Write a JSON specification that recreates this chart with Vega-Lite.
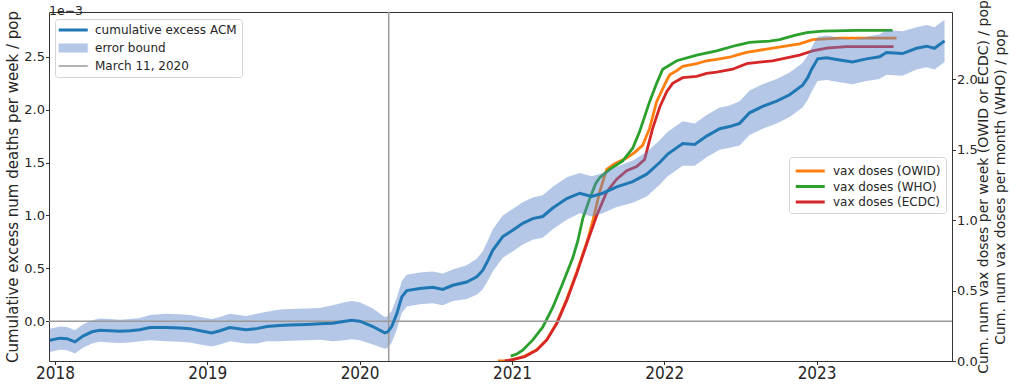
{
  "$schema": "https://vega.github.io/schema/vega-lite/v6.json",
  "width": 903,
  "height": 349,
  "autosize": {"type": "none"},
  "padding": {"left": 49, "top": 12, "right": 72, "bottom": 29},
  "background": "white",
  "title": {"text": "1e−3", "anchor": "start", "frame": "group", "fontSize": 12.5, "fontWeight": "normal", "font": "DejaVu Sans", "offset": -18, "color": "#262626"},
  "config": {
    "view": {"stroke": "#333333", "strokeWidth": 1},
    "axis": {"grid": false, "domain": false, "tickColor": "#333333", "labelColor": "#262626", "titleColor": "#262626", "labelFont": "DejaVu Sans", "titleFont": "DejaVu Sans", "titleFontWeight": "normal", "tickWidth": 1, "labelFontSize": 13},
    "legend": {"labelFont": "DejaVu Sans", "labelColor": "#262626", "labelFontSize": 12}
  },
  "datasets": {
    "acm": [
      {"year": 2017.967, "acm": -0.00018, "lo": -0.00029, "hi": -0.00007},
      {"year": 2018.033, "acm": -0.00016, "lo": -0.00027, "hi": -0.00005},
      {"year": 2018.079, "acm": -0.000165, "lo": -0.000275, "hi": -0.000055},
      {"year": 2018.131, "acm": -0.000195, "lo": -0.000305, "hi": -0.000085},
      {"year": 2018.184, "acm": -0.00014, "lo": -0.00025, "hi": -0.00003},
      {"year": 2018.243, "acm": -0.0001, "lo": -0.00021, "hi": 0.00001},
      {"year": 2018.295, "acm": -0.000085, "lo": -0.000195, "hi": 0.000025},
      {"year": 2018.361, "acm": -0.00009, "lo": -0.0002, "hi": 0.00002},
      {"year": 2018.427, "acm": -0.000095, "lo": -0.000205, "hi": 0.000015},
      {"year": 2018.492, "acm": -0.00009, "lo": -0.0002, "hi": 0.00002},
      {"year": 2018.558, "acm": -0.00008, "lo": -0.00019, "hi": 0.00003},
      {"year": 2018.623, "acm": -0.00006, "lo": -0.00018, "hi": 0.00006},
      {"year": 2018.728, "acm": -0.00006, "lo": -0.00019, "hi": 0.00007},
      {"year": 2018.82, "acm": -0.000065, "lo": -0.000195, "hi": 0.000065},
      {"year": 2018.886, "acm": -0.00007, "lo": -0.0002, "hi": 0.00006},
      {"year": 2018.971, "acm": -0.000095, "lo": -0.000225, "hi": 0.000035},
      {"year": 2019.03, "acm": -0.00011, "lo": -0.00024, "hi": 0.00002},
      {"year": 2019.083, "acm": -0.00009, "lo": -0.00022, "hi": 0.00004},
      {"year": 2019.148, "acm": -0.00006, "lo": -0.00019, "hi": 0.00007},
      {"year": 2019.253, "acm": -0.00008, "lo": -0.00021, "hi": 0.00005},
      {"year": 2019.325, "acm": -0.00007, "lo": -0.00021, "hi": 0.00007},
      {"year": 2019.391, "acm": -0.00005, "lo": -0.00019, "hi": 0.00009},
      {"year": 2019.476, "acm": -0.00004, "lo": -0.00019, "hi": 0.00011},
      {"year": 2019.542, "acm": -0.000035, "lo": -0.000185, "hi": 0.000115},
      {"year": 2019.654, "acm": -0.00003, "lo": -0.00018, "hi": 0.00012},
      {"year": 2019.739, "acm": -0.000025, "lo": -0.000175, "hi": 0.000125},
      {"year": 2019.824, "acm": -0.00002, "lo": -0.00019, "hi": 0.00015},
      {"year": 2019.903, "acm": 0.0, "lo": -0.00018, "hi": 0.00018},
      {"year": 2019.949, "acm": 0.00001, "lo": -0.00017, "hi": 0.00019},
      {"year": 2020.001, "acm": 0.0, "lo": -0.00018, "hi": 0.00018},
      {"year": 2020.087, "acm": -0.00005, "lo": -0.00022, "hi": 0.00012},
      {"year": 2020.165, "acm": -0.00011, "lo": -0.00026, "hi": 0.00004},
      {"year": 2020.185, "acm": -0.0001, "lo": -0.00025, "hi": 0.00005},
      {"year": 2020.211, "acm": -0.00005, "lo": -0.0002, "hi": 0.0001},
      {"year": 2020.244, "acm": 0.00007, "lo": -0.00008, "hi": 0.00022},
      {"year": 2020.277, "acm": 0.00023, "lo": 0.00008, "hi": 0.00038},
      {"year": 2020.31, "acm": 0.00029, "lo": 0.00014, "hi": 0.00044},
      {"year": 2020.395, "acm": 0.00031, "lo": 0.00016, "hi": 0.00046},
      {"year": 2020.48, "acm": 0.00032, "lo": 0.00017, "hi": 0.00047},
      {"year": 2020.546, "acm": 0.0003, "lo": 0.00015, "hi": 0.00045},
      {"year": 2020.612, "acm": 0.00034, "lo": 0.00019, "hi": 0.00049},
      {"year": 2020.703, "acm": 0.00037, "lo": 0.00021, "hi": 0.00053},
      {"year": 2020.769, "acm": 0.00042, "lo": 0.00025, "hi": 0.00059},
      {"year": 2020.808, "acm": 0.00048, "lo": 0.0003, "hi": 0.00066},
      {"year": 2020.841, "acm": 0.00057, "lo": 0.00038, "hi": 0.00076},
      {"year": 2020.874, "acm": 0.00067, "lo": 0.00047, "hi": 0.00087},
      {"year": 2020.94, "acm": 0.0008, "lo": 0.0006, "hi": 0.001},
      {"year": 2021.005, "acm": 0.00086, "lo": 0.00066, "hi": 0.00106},
      {"year": 2021.071, "acm": 0.000925, "lo": 0.000725, "hi": 0.001125},
      {"year": 2021.137, "acm": 0.00097, "lo": 0.00077, "hi": 0.00117},
      {"year": 2021.202, "acm": 0.00099, "lo": 0.00079, "hi": 0.00119},
      {"year": 2021.268, "acm": 0.00107, "lo": 0.00087, "hi": 0.00127},
      {"year": 2021.36, "acm": 0.00116, "lo": 0.00096, "hi": 0.00136},
      {"year": 2021.445, "acm": 0.00121, "lo": 0.00102, "hi": 0.0014},
      {"year": 2021.524, "acm": 0.00118, "lo": 0.00099, "hi": 0.00137},
      {"year": 2021.596, "acm": 0.00121, "lo": 0.00102, "hi": 0.0014},
      {"year": 2021.688, "acm": 0.00127, "lo": 0.00108, "hi": 0.00146},
      {"year": 2021.793, "acm": 0.00132, "lo": 0.00112, "hi": 0.00152},
      {"year": 2021.885, "acm": 0.00139, "lo": 0.00118, "hi": 0.0016},
      {"year": 2021.97, "acm": 0.0015, "lo": 0.00129, "hi": 0.00171},
      {"year": 2022.023, "acm": 0.00158, "lo": 0.00137, "hi": 0.00179},
      {"year": 2022.121, "acm": 0.00168, "lo": 0.00147, "hi": 0.00189},
      {"year": 2022.2, "acm": 0.00167, "lo": 0.00147, "hi": 0.00187},
      {"year": 2022.278, "acm": 0.00175, "lo": 0.00155, "hi": 0.00195},
      {"year": 2022.364, "acm": 0.00182, "lo": 0.00162, "hi": 0.00202},
      {"year": 2022.429, "acm": 0.00184, "lo": 0.00164, "hi": 0.00204},
      {"year": 2022.495, "acm": 0.00187, "lo": 0.00166, "hi": 0.00208},
      {"year": 2022.56, "acm": 0.00197, "lo": 0.00176, "hi": 0.00218},
      {"year": 2022.646, "acm": 0.00203, "lo": 0.00182, "hi": 0.00224},
      {"year": 2022.738, "acm": 0.00208, "lo": 0.00187, "hi": 0.00229},
      {"year": 2022.823, "acm": 0.00214, "lo": 0.00193, "hi": 0.00235},
      {"year": 2022.908, "acm": 0.00223, "lo": 0.00202, "hi": 0.00244},
      {"year": 2022.941, "acm": 0.0023, "lo": 0.00209, "hi": 0.00251},
      {"year": 2022.967, "acm": 0.00238, "lo": 0.00217, "hi": 0.00259},
      {"year": 2023.007, "acm": 0.00248, "lo": 0.00227, "hi": 0.00269},
      {"year": 2023.066, "acm": 0.00249, "lo": 0.00228, "hi": 0.0027},
      {"year": 2023.151, "acm": 0.00247, "lo": 0.00226, "hi": 0.00268},
      {"year": 2023.236, "acm": 0.00245, "lo": 0.00224, "hi": 0.00266},
      {"year": 2023.328, "acm": 0.00248, "lo": 0.00227, "hi": 0.00269},
      {"year": 2023.413, "acm": 0.0025, "lo": 0.00229, "hi": 0.00271},
      {"year": 2023.459, "acm": 0.00254, "lo": 0.00233, "hi": 0.00275},
      {"year": 2023.564, "acm": 0.00253, "lo": 0.00232, "hi": 0.00274},
      {"year": 2023.656, "acm": 0.00258, "lo": 0.00238, "hi": 0.00278},
      {"year": 2023.722, "acm": 0.0026, "lo": 0.0024, "hi": 0.0028},
      {"year": 2023.774, "acm": 0.00258, "lo": 0.00238, "hi": 0.00278},
      {"year": 2023.84, "acm": 0.00265, "lo": 0.00245, "hi": 0.00285}
    ],
    "vax": [
      {"source": "vax doses (OWID)", "year": 2020.907, "doses": 0.0},
      {"source": "vax doses (OWID)", "year": 2020.953, "doses": 0.0},
      {"source": "vax doses (OWID)", "year": 2021.005, "doses": 0.01},
      {"source": "vax doses (OWID)", "year": 2021.084, "doses": 0.035},
      {"source": "vax doses (OWID)", "year": 2021.163, "doses": 0.08},
      {"source": "vax doses (OWID)", "year": 2021.228, "doses": 0.15},
      {"source": "vax doses (OWID)", "year": 2021.294, "doses": 0.27},
      {"source": "vax doses (OWID)", "year": 2021.36, "doses": 0.44},
      {"source": "vax doses (OWID)", "year": 2021.425, "doses": 0.63},
      {"source": "vax doses (OWID)", "year": 2021.497, "doses": 0.86},
      {"source": "vax doses (OWID)", "year": 2021.53, "doses": 0.99},
      {"source": "vax doses (OWID)", "year": 2021.576, "doses": 1.2},
      {"source": "vax doses (OWID)", "year": 2021.622, "doses": 1.36},
      {"source": "vax doses (OWID)", "year": 2021.675, "doses": 1.4},
      {"source": "vax doses (OWID)", "year": 2021.753, "doses": 1.44},
      {"source": "vax doses (OWID)", "year": 2021.806, "doses": 1.48},
      {"source": "vax doses (OWID)", "year": 2021.858, "doses": 1.53},
      {"source": "vax doses (OWID)", "year": 2021.904, "doses": 1.65},
      {"source": "vax doses (OWID)", "year": 2021.95, "doses": 1.84},
      {"source": "vax doses (OWID)", "year": 2022.016, "doses": 1.99},
      {"source": "vax doses (OWID)", "year": 2022.036, "doses": 2.03},
      {"source": "vax doses (OWID)", "year": 2022.082, "doses": 2.06},
      {"source": "vax doses (OWID)", "year": 2022.121, "doses": 2.09},
      {"source": "vax doses (OWID)", "year": 2022.213, "doses": 2.11},
      {"source": "vax doses (OWID)", "year": 2022.278, "doses": 2.13},
      {"source": "vax doses (OWID)", "year": 2022.344, "doses": 2.14},
      {"source": "vax doses (OWID)", "year": 2022.429, "doses": 2.155},
      {"source": "vax doses (OWID)", "year": 2022.475, "doses": 2.17},
      {"source": "vax doses (OWID)", "year": 2022.541, "doses": 2.19},
      {"source": "vax doses (OWID)", "year": 2022.711, "doses": 2.22},
      {"source": "vax doses (OWID)", "year": 2022.888, "doses": 2.25},
      {"source": "vax doses (OWID)", "year": 2022.974, "doses": 2.28},
      {"source": "vax doses (OWID)", "year": 2023.151, "doses": 2.29},
      {"source": "vax doses (OWID)", "year": 2023.525, "doses": 2.29},
      {"source": "vax doses (WHO)", "year": 2020.992, "doses": 0.035},
      {"source": "vax doses (WHO)", "year": 2021.032, "doses": 0.05},
      {"source": "vax doses (WHO)", "year": 2021.071, "doses": 0.077},
      {"source": "vax doses (WHO)", "year": 2021.137, "doses": 0.15},
      {"source": "vax doses (WHO)", "year": 2021.202, "doses": 0.24},
      {"source": "vax doses (WHO)", "year": 2021.268, "doses": 0.38},
      {"source": "vax doses (WHO)", "year": 2021.333, "doses": 0.55},
      {"source": "vax doses (WHO)", "year": 2021.399, "doses": 0.73},
      {"source": "vax doses (WHO)", "year": 2021.432, "doses": 0.85},
      {"source": "vax doses (WHO)", "year": 2021.465, "doses": 1.01},
      {"source": "vax doses (WHO)", "year": 2021.51, "doses": 1.15},
      {"source": "vax doses (WHO)", "year": 2021.55, "doses": 1.26},
      {"source": "vax doses (WHO)", "year": 2021.576, "doses": 1.3},
      {"source": "vax doses (WHO)", "year": 2021.642, "doses": 1.36},
      {"source": "vax doses (WHO)", "year": 2021.727, "doses": 1.42},
      {"source": "vax doses (WHO)", "year": 2021.793, "doses": 1.51},
      {"source": "vax doses (WHO)", "year": 2021.839, "doses": 1.63},
      {"source": "vax doses (WHO)", "year": 2021.904, "doses": 1.84},
      {"source": "vax doses (WHO)", "year": 2021.95, "doses": 1.97},
      {"source": "vax doses (WHO)", "year": 2021.99, "doses": 2.07},
      {"source": "vax doses (WHO)", "year": 2022.082, "doses": 2.13},
      {"source": "vax doses (WHO)", "year": 2022.213, "doses": 2.17},
      {"source": "vax doses (WHO)", "year": 2022.344, "doses": 2.2},
      {"source": "vax doses (WHO)", "year": 2022.475, "doses": 2.24},
      {"source": "vax doses (WHO)", "year": 2022.56, "doses": 2.26},
      {"source": "vax doses (WHO)", "year": 2022.692, "doses": 2.27},
      {"source": "vax doses (WHO)", "year": 2022.757, "doses": 2.28},
      {"source": "vax doses (WHO)", "year": 2022.856, "doses": 2.31},
      {"source": "vax doses (WHO)", "year": 2022.934, "doses": 2.33},
      {"source": "vax doses (WHO)", "year": 2023.039, "doses": 2.34},
      {"source": "vax doses (WHO)", "year": 2023.262, "doses": 2.345},
      {"source": "vax doses (WHO)", "year": 2023.499, "doses": 2.345},
      {"source": "vax doses (ECDC)", "year": 2020.953, "doses": 0.0},
      {"source": "vax doses (ECDC)", "year": 2021.005, "doses": 0.01},
      {"source": "vax doses (ECDC)", "year": 2021.084, "doses": 0.03},
      {"source": "vax doses (ECDC)", "year": 2021.163, "doses": 0.077},
      {"source": "vax doses (ECDC)", "year": 2021.228, "doses": 0.148},
      {"source": "vax doses (ECDC)", "year": 2021.294, "doses": 0.265},
      {"source": "vax doses (ECDC)", "year": 2021.36, "doses": 0.43},
      {"source": "vax doses (ECDC)", "year": 2021.425, "doses": 0.62},
      {"source": "vax doses (ECDC)", "year": 2021.497, "doses": 0.85},
      {"source": "vax doses (ECDC)", "year": 2021.556, "doses": 1.03},
      {"source": "vax doses (ECDC)", "year": 2021.622, "doses": 1.2},
      {"source": "vax doses (ECDC)", "year": 2021.688, "doses": 1.29},
      {"source": "vax doses (ECDC)", "year": 2021.753, "doses": 1.35},
      {"source": "vax doses (ECDC)", "year": 2021.819, "doses": 1.38},
      {"source": "vax doses (ECDC)", "year": 2021.871, "doses": 1.43},
      {"source": "vax doses (ECDC)", "year": 2021.924, "doses": 1.65},
      {"source": "vax doses (ECDC)", "year": 2021.97, "doses": 1.8},
      {"source": "vax doses (ECDC)", "year": 2022.016, "doses": 1.91},
      {"source": "vax doses (ECDC)", "year": 2022.055, "doses": 1.97},
      {"source": "vax doses (ECDC)", "year": 2022.121, "doses": 2.01},
      {"source": "vax doses (ECDC)", "year": 2022.213, "doses": 2.02},
      {"source": "vax doses (ECDC)", "year": 2022.278, "doses": 2.04},
      {"source": "vax doses (ECDC)", "year": 2022.344, "doses": 2.05},
      {"source": "vax doses (ECDC)", "year": 2022.449, "doses": 2.07},
      {"source": "vax doses (ECDC)", "year": 2022.541, "doses": 2.11},
      {"source": "vax doses (ECDC)", "year": 2022.626, "doses": 2.12},
      {"source": "vax doses (ECDC)", "year": 2022.711, "doses": 2.13},
      {"source": "vax doses (ECDC)", "year": 2022.803, "doses": 2.15},
      {"source": "vax doses (ECDC)", "year": 2022.888, "doses": 2.17},
      {"source": "vax doses (ECDC)", "year": 2022.974, "doses": 2.2},
      {"source": "vax doses (ECDC)", "year": 2023.066, "doses": 2.22},
      {"source": "vax doses (ECDC)", "year": 2023.197, "doses": 2.23},
      {"source": "vax doses (ECDC)", "year": 2023.505, "doses": 2.23}
    ],
    "marker": [{"event": "March 11, 2020", "year": 2020.191}],
    "zeroline": [{"level": 0}]
  },
  "layer": [
    {
      "data": {"name": "vax"},
      "mark": {"type": "line", "strokeWidth": 2.8, "clip": true},
      "encoding": {
        "x": {"field": "year", "type": "quantitative", "scale": {"domain": [2017.961, 2023.889], "nice": false, "zero": false},
              "axis": {"orient": "bottom", "values": [2018, 2019, 2020, 2021, 2022, 2023], "format": "d", "title": null, "labelFont": "Liberation Sans Narrow, DejaVu Sans Condensed, sans-serif", "labelFontSize": 17, "tickSize": 3.5, "labelPadding": 1, "labelFlush": false}},
        "y": {"field": "doses", "type": "quantitative", "scale": {"domain": [0, 2.476], "nice": false, "zero": false},
              "axis": {"orient": "right", "values": [0, 0.5, 1, 1.5, 2], "format": ".1f", "tickSize": 3.5, "labelPadding": 1,
                       "title": ["Cum. num vax doses per week (OWID or ECDC) / pop", "Cum. num vax doses per month (WHO) / pop"],
                       "titleFontSize": 14, "titleAngle": 270, "titleBaseline": "top", "titleLineHeight": 16.5, "titlePadding": -17}},
        "color": {"field": "source", "type": "nominal",
                  "scale": {"domain": ["vax doses (OWID)", "vax doses (WHO)", "vax doses (ECDC)"], "range": ["#ff7f0e", "#2ca02c", "#d62728"]},
                  "legend": {"orient": "none", "legendX": 740, "legendY": 145, "title": null, "symbolType": "M-1,0H3", "symbolSize": 210, "symbolStrokeWidth": 3, "labelOffset": 21, "rowPadding": 0.5, "padding": 5, "strokeColor": "#d4d4d4", "fillColor": "white", "cornerRadius": 3}}
      }
    },
    {
      "layer": [
        {
          "data": {"name": "acm"},
          "mark": {"type": "area", "color": "#5883ca", "opacity": 0.45, "clip": true},
          "encoding": {
            "x": {"field": "year", "type": "quantitative", "scale": {"domain": [2017.961, 2023.889], "nice": false, "zero": false}},
            "y": {"field": "lo", "type": "quantitative", "scale": {"domain": [-0.000376, 0.002923], "nice": false, "zero": false},
                  "axis": {"orient": "left", "values": [0, 0.0005, 0.001, 0.0015, 0.002, 0.0025], "labelExpr": "format(datum.value*1000, '.1f')", "tickSize": 3.5, "labelPadding": 1,
                           "title": "Cumulative excess num deaths per week / pop", "titleFontSize": 15, "titlePadding": 3}},
            "y2": {"field": "hi"}
          }
        },
        {
          "data": {"name": "zeroline"},
          "mark": {"type": "rule", "color": "#9a9a9a", "strokeWidth": 1.5},
          "encoding": {
            "y": {"field": "level", "type": "quantitative", "title": "Cumulative excess num deaths per week / pop"}
          }
        },
        {
          "data": {"name": "marker"},
          "mark": {"type": "rule", "strokeWidth": 1.5},
          "encoding": {
            "x": {"field": "year", "type": "quantitative", "scale": {"domain": [2017.961, 2023.889], "nice": false, "zero": false}},
            "stroke": {"field": "event", "type": "nominal",
                       "scale": {"domain": ["cumulative excess ACM", "error bound", "March 11, 2020"], "range": ["#1f77b4", "#b4c7e7", "#9a9a9a"]},
                       "legend": {"orient": "none", "legendX": 6, "legendY": 7, "title": null, "symbolType": "M-1,0H3", "symbolSize": 210, "symbolStrokeWidth": 3, "labelOffset": 23, "rowPadding": 6, "padding": 5, "strokeColor": "#d4d4d4", "fillColor": "white", "cornerRadius": 3,
                                  "encode": {"symbols": {"update": {
                                    "shape": {"signal": "datum.value === 'error bound' ? 'M-1,-0.62H3V0.62H-1Z' : 'M-1,0H3'"},
                                    "fill": {"signal": "datum.value === 'error bound' ? '#b4c7e7' : 'transparent'"},
                                    "fillOpacity": {"value": 1},
                                    "strokeWidth": {"signal": "datum.value === 'error bound' ? 0 : (datum.value === 'March 11, 2020' ? 1.5 : 3)"}}}}}
            }
          }
        },
        {
          "data": {"name": "acm"},
          "mark": {"type": "line", "strokeWidth": 3, "color": "#1f77b4", "clip": true},
          "encoding": {
            "x": {"field": "year", "type": "quantitative", "scale": {"domain": [2017.961, 2023.889], "nice": false, "zero": false}},
            "y": {"field": "acm", "type": "quantitative", "title": "Cumulative excess num deaths per week / pop"}
          }
        }
      ]
    }
  ],
  "resolve": {"scale": {"y": "independent"}}
}
